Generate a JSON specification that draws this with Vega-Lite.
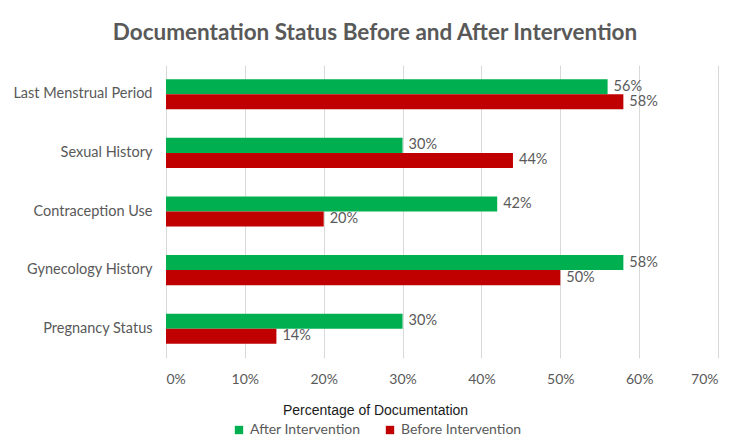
{
  "$schema": "https://vega.github.io/schema/vega-lite/v6.json",
  "width": 552,
  "height": 293,
  "autosize": "none",
  "padding": {"left": 166, "top": 65, "right": 32, "bottom": 81},
  "background": "white",
  "title": {
    "text": "Documentation Status Before and After Intervention",
    "font": "Lato",
    "fontSize": 22.5,
    "fontWeight": "bold",
    "color": "#595959",
    "anchor": "middle",
    "dx": -67,
    "offset": 21
  },
  "config": {
    "view": {"stroke": null},
    "font": "Lato"
  },
  "data": {
    "values": [
      {"category": "Last Menstrual Period", "series": "After Intervention", "value": 0.56},
      {"category": "Last Menstrual Period", "series": "Before Intervention", "value": 0.58},
      {"category": "Sexual History", "series": "After Intervention", "value": 0.30},
      {"category": "Sexual History", "series": "Before Intervention", "value": 0.44},
      {"category": "Contraception Use", "series": "After Intervention", "value": 0.42},
      {"category": "Contraception Use", "series": "Before Intervention", "value": 0.20},
      {"category": "Gynecology History", "series": "After Intervention", "value": 0.58},
      {"category": "Gynecology History", "series": "Before Intervention", "value": 0.50},
      {"category": "Pregnancy Status", "series": "After Intervention", "value": 0.30},
      {"category": "Pregnancy Status", "series": "Before Intervention", "value": 0.14}
    ]
  },
  "encoding": {
    "y": {
      "field": "category",
      "type": "nominal",
      "sort": ["Last Menstrual Period", "Sexual History", "Contraception Use", "Gynecology History", "Pregnancy Status"],
      "scale": {"paddingInner": 0.487, "paddingOuter": 0.2435},
      "axis": {
        "title": null,
        "domain": false,
        "ticks": false,
        "labelPadding": 14,
        "labelFont": "Lato",
        "labelFontSize": 14.5,
        "labelColor": "#595959"
      }
    },
    "yOffset": {
      "field": "series",
      "type": "nominal",
      "sort": ["After Intervention", "Before Intervention"],
      "scale": {"paddingInner": 0, "paddingOuter": 0}
    },
    "x": {
      "field": "value",
      "type": "quantitative",
      "scale": {"domain": [0, 0.7]},
      "axis": {
        "values": [0, 0.1, 0.2, 0.3, 0.4, 0.5, 0.6, 0.7],
        "format": ".0%",
        "title": "Percentage of Documentation",
        "titleFont": "Liberation Sans",
        "titleFontSize": 14,
        "titleFontWeight": "normal",
        "titleColor": "#1a1a1a",
        "titleAnchor": "start",
        "titleAlign": "center",
        "titleX": 209,
        "titleY": 56,
        "titleBaseline": "alphabetic",
        "domain": false,
        "ticks": false,
        "labelPadding": 14,
        "labelFont": "Lato",
        "labelFontSize": 14,
        "labelColor": "#595959",
        "grid": true,
        "gridColor": "#d9d9d9"
      }
    }
  },
  "layer": [
    {
      "mark": {"type": "bar"},
      "encoding": {
        "color": {
          "field": "series",
          "type": "nominal",
          "sort": ["After Intervention", "Before Intervention"],
          "scale": {"domain": ["After Intervention", "Before Intervention"], "range": ["#00B050", "#C00000"]},
          "legend": {
            "title": null,
            "orient": "none",
            "direction": "horizontal",
            "legendX": 66,
            "legendY": 358,
            "symbolType": "square",
            "symbolSize": 70,
            "symbolStrokeWidth": 0,
            "labelFont": "Lato",
            "labelFontSize": 14,
            "labelColor": "#595959",
            "labelOffset": 4,
            "columnPadding": 22
          }
        }
      }
    },
    {
      "mark": {"type": "text", "align": "left", "baseline": "middle", "dx": 6, "font": "Lato", "fontSize": 14.5, "color": "#595959"},
      "encoding": {
        "text": {"field": "value", "type": "quantitative", "format": ".0%"}
      }
    }
  ]
}
